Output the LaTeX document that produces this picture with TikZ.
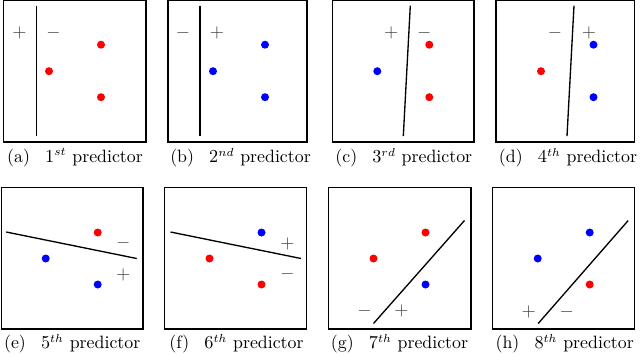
\documentclass[tikz,border=0pt]{standalone}
\usetikzlibrary{positioning}
\begin{document}
\begin{tikzpicture}[x=0.6pt,y=-0.6pt,
    panel/.style={draw,line width=0.8pt},
    sep/.style={line width=0.8pt},
    dot/.style={circle,inner sep=0pt,minimum size=4.8pt},
    rdot/.style={dot,fill=red},
    bdot/.style={dot,fill=blue},
    sgn/.style={inner sep=0pt,text=black!75,font=\fontsize{10.5}{12}\selectfont},
    subcap/.style={inner sep=0pt,font=\fontsize{10.7}{13}\selectfont}]
  \useasboundingbox (0,0) rectangle (640,354);

  % top row
  \begin{scope}[shift={(3.5,0.7)}]
    \draw[panel] (0,0) rectangle (142.5,141.3);
    \draw[sep] (33,5) -- (33,135.5);
    \node[rdot] (a1) at (97.5,44) {};
    \node[rdot] (a2) at (45.5,70.5) {};
    \node[rdot] (a3) at (97.5,96.5) {};
    \node[sgn] (aP) at (16,32) {$+$};
    \node[sgn] (aM) at (50,32) {$-$};
    \node[subcap] (capA) at (71.5,157) {(a)\hspace{0.85em}$1^{st}$ predictor};
  \end{scope}
  \begin{scope}[shift={(168,0.7)}]
    \draw[panel] (0,0) rectangle (139,141.3);
    \draw[sep] (32,5) -- (32,135.5);
    \node[bdot] (b1) at (97,44) {};
    \node[bdot] (b2) at (45,70.5) {};
    \node[bdot] (b3) at (97,96.5) {};
    \node[sgn] (bM) at (15,32) {$-$};
    \node[sgn] (bP) at (49,32) {$+$};
    \node[subcap] (capB) at (72.5,157) {(b)\hspace{0.85em}$2^{nd}$ predictor};
  \end{scope}
  \begin{scope}[shift={(332.3,0.7)}]
    \draw[panel] (0,0) rectangle (141.7,141.3);
    \draw[sep] (78,5) -- (71,135.5);
    \node[rdot] (c1) at (97,44) {};
    \node[bdot] (c2) at (45,70.5) {};
    \node[rdot] (c3) at (97,96.5) {};
    \node[sgn] (cP) at (59,32) {$+$};
    \node[sgn] (cM) at (92,32) {$-$};
    \node[subcap] (capC) at (71.5,157) {(c)\hspace{0.85em}$3^{rd}$ predictor};
  \end{scope}
  \begin{scope}[shift={(496,0.7)}]
    \draw[panel] (0,0) rectangle (138.3,141.3);
    \draw[sep] (78,5) -- (71,135.5);
    \node[bdot] (d1) at (97.5,44) {};
    \node[rdot] (d2) at (45,70.5) {};
    \node[bdot] (d3) at (97.5,96.5) {};
    \node[sgn] (dM) at (59,32) {$-$};
    \node[sgn] (dP) at (93,32) {$+$};
    \node[subcap] (capD) at (72,157) {(d)\hspace{0.85em}$4^{th}$ predictor};
  \end{scope}

  % bottom row
  \begin{scope}[shift={(1.2,187.5)}]
    \draw[panel] (0,0) rectangle (141.8,141.5);
    \draw[sep] (5,44.5) -- (135.5,71);
    \node[rdot] (e1) at (96.5,45) {};
    \node[bdot] (e2) at (44.5,71) {};
    \node[bdot] (e3) at (96.5,97) {};
    \node[sgn] (eM) at (122,55) {$-$};
    \node[sgn] (eP) at (122,87) {$+$};
    \node[subcap] (capE) at (71,156) {(e)\hspace{0.85em}$5^{th}$ predictor};
  \end{scope}
  \begin{scope}[shift={(164.5,187.5)}]
    \draw[panel] (0,0) rectangle (142.3,141.5);
    \draw[sep] (6,44.5) -- (136.5,71);
    \node[bdot] (f1) at (97,45) {};
    \node[rdot] (f2) at (45,71) {};
    \node[rdot] (f3) at (97,97) {};
    \node[sgn] (fP) at (123,56) {$+$};
    \node[sgn] (fM) at (123,86) {$-$};
    \node[subcap] (capF) at (72,156) {(f)\hspace{0.85em}$6^{th}$ predictor};
  \end{scope}
  \begin{scope}[shift={(328.5,187.5)}]
    \draw[panel] (0,0) rectangle (142.5,141.5);
    \draw[sep] (45,136) -- (136,33);
    \node[rdot] (g1) at (97,45) {};
    \node[rdot] (g2) at (45,71) {};
    \node[bdot] (g3) at (97,97) {};
    \node[sgn] (gM) at (36,123) {$-$};
    \node[sgn] (gP) at (73,123) {$+$};
    \node[subcap] (capG) at (71,156) {(g)\hspace{0.85em}$7^{th}$ predictor};
  \end{scope}
  \begin{scope}[shift={(492.7,187.5)}]
    \draw[panel] (0,0) rectangle (141.5,141.5);
    \draw[sep] (45.5,136) -- (135.5,33);
    \node[bdot] (h1) at (97,45) {};
    \node[bdot] (h2) at (45,71) {};
    \node[rdot] (h3) at (97,97) {};
    \node[sgn] (hP) at (36,124) {$+$};
    \node[sgn] (hM) at (74,124) {$-$};
    \node[subcap] (capH) at (72,156) {(h)\hspace{0.85em}$8^{th}$ predictor};
  \end{scope}
\end{tikzpicture}
\end{document}
